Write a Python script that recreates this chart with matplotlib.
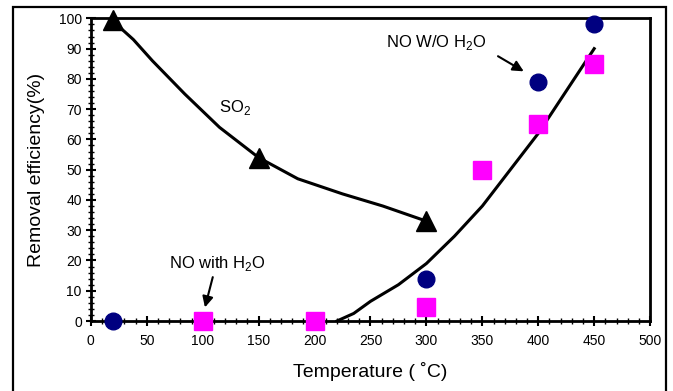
import matplotlib
matplotlib.use('Agg')
import matplotlib.pyplot as plt
from matplotlib.patches import Rectangle
from matplotlib.ticker import MultipleLocator

plt.rcParams['font.family'] = ['Liberation Sans', 'DejaVu Sans']
plt.rcParams['mathtext.fontset'] = 'custom'
plt.rcParams['mathtext.rm'] = 'Liberation Sans'

# SO2 (triangles) and its fitted line
so2_temp = [20, 150, 300]
so2_eff = [99.5, 54, 33]
so2_fit_temp = [20, 38, 55, 84, 115, 150, 185, 225, 261, 300]
so2_fit_eff = [99, 93, 86, 75, 64, 54, 47, 42, 38, 33]

# NO with H2O (squares)
no_h2o_temp = [100, 200, 300, 350, 400, 450]
no_h2o_eff = [0, 0, 4.6, 50, 65, 85]

# NO without H2O (circles)
no_dry_temp = [20, 300, 400, 450]
no_dry_eff = [0, 14, 79, 98]

# fitted curve for NO
no_fit_temp = [220, 235, 250, 275, 300, 325, 350, 375, 400, 425, 450]
no_fit_eff = [0, 2.5, 6.5, 12, 19, 28, 38, 50, 62, 76, 90]

fig = plt.figure(figsize=(6.73, 3.91), dpi=100)
ax = fig.add_axes([0.135, 0.179, 0.831, 0.774])

ax.plot(so2_fit_temp, so2_fit_eff, color='black', lw=2.2, zorder=2)
ax.plot(no_fit_temp, no_fit_eff, color='black', lw=2.2, zorder=2)
ax.plot(so2_temp, so2_eff, '^', color='black', ms=14, zorder=3, clip_on=False)
ax.plot(no_h2o_temp, no_h2o_eff, 's', color='#ff00ff', ms=12.5, zorder=3, clip_on=False)
ax.plot(no_dry_temp, no_dry_eff, 'o', color='#000080', ms=12, zorder=3, clip_on=False)

arrow = dict(arrowstyle='-|>', color='black', lw=1.5, mutation_scale=16, shrinkA=0, shrinkB=0)
ax.text(129, 70.5, r'SO$_2$', fontsize=12, ha='center', va='center')
ax.text(113, 19, r'NO with H$_2$O', fontsize=12, ha='center', va='center')
ax.annotate('', xy=(102, 4.5), xytext=(109, 14.5), arrowprops=arrow)
ax.text(309, 92, r'NO W/O H$_2$O', fontsize=12, ha='center', va='center')
ax.annotate('', xy=(387, 82.5), xytext=(364, 87.5), arrowprops=arrow)

ax.set_xlim(0, 500)
ax.set_ylim(0, 100)
ax.xaxis.set_major_locator(MultipleLocator(50))
ax.xaxis.set_minor_locator(MultipleLocator(10))
ax.yaxis.set_major_locator(MultipleLocator(10))
ax.yaxis.set_minor_locator(MultipleLocator(2))
ax.tick_params(which='major', direction='inout', length=7, width=1.5, labelsize=10)
ax.tick_params(axis='x', which='major', pad=6)
ax.tick_params(axis='y', which='major', pad=3)
ax.tick_params(which='minor', direction='inout', length=4, width=1)
for s in ax.spines.values():
    s.set_linewidth(2)

ax.set_xlabel('Temperature ( \u02daC)', fontsize=14, labelpad=10)
ax.set_ylabel('Removal efficiency(%)', fontsize=14, labelpad=10)

# outer frame around the whole figure (bottom edge runs off the image)
frame = Rectangle((13 / 673, -0.05), (666 - 13) / 673, 1.05 - 7 / 391,
                  transform=fig.transFigure, fill=False, lw=1.6, ec='black', clip_on=False)
fig.patches.append(frame)

plt.savefig('out.png', dpi=100)
